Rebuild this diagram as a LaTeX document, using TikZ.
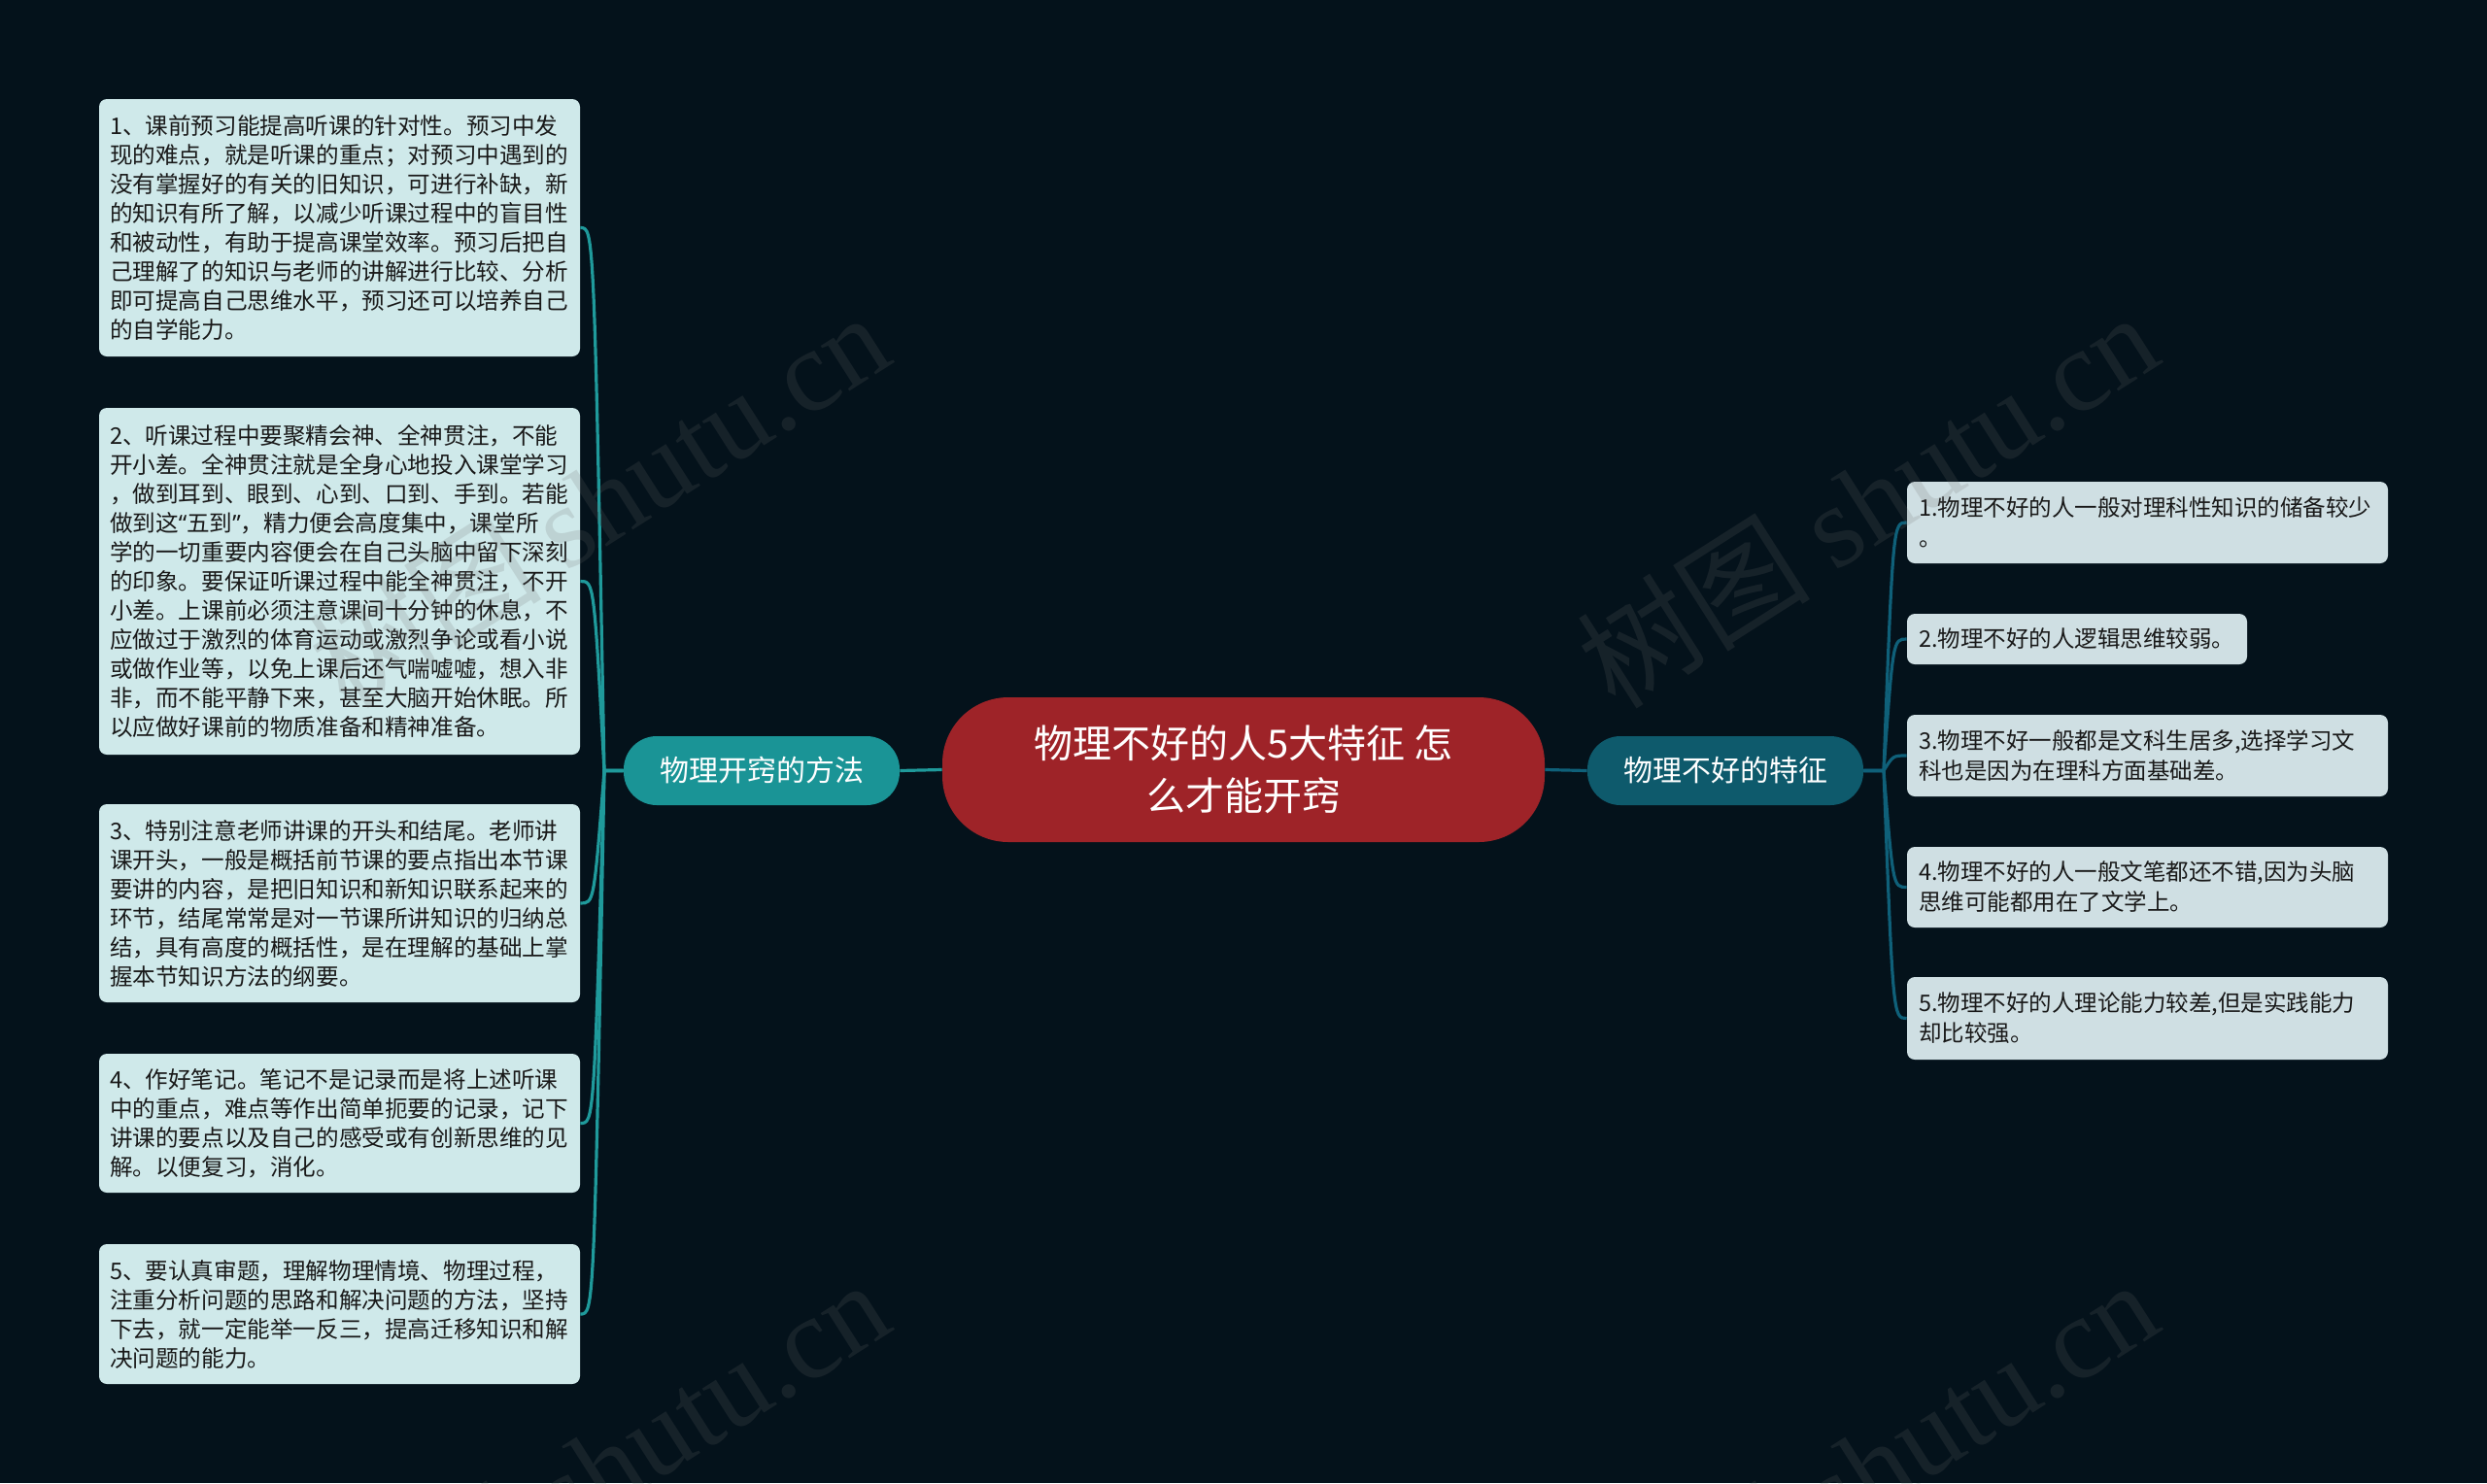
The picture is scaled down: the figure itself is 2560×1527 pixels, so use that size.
\documentclass[tikz,border=0pt]{standalone}
\usepackage{fontspec}
\setmainfont{Noto Sans CJK SC}
\newfontfamily\wmlatin{Liberation Serif}
\newfontfamily\qfont{Noto Sans}
\definecolor{bgc}{HTML}{04121B}
\definecolor{leafLc}{HTML}{CFE9EA}
\definecolor{leafRc}{HTML}{CFDFE3}
\definecolor{brLc}{HTML}{1A9496}
\definecolor{brRc}{HTML}{0E5A6C}
\definecolor{rootc}{HTML}{9E2328}
\definecolor{lnLc}{HTML}{1F9A9B}
\definecolor{lnRc}{HTML}{0F6079}
\definecolor{wmc}{HTML}{6D6D6D}
\begin{document}
\begin{tikzpicture}[x=0.5pt,y=-0.5pt,
  leafl/.style={fill=leafLc, rounded corners=4pt, inner xsep=5.5pt, inner ysep=0pt,
    align=left, text width=236.5pt, text=black!90,
    font=\fontsize{11.8pt}{15pt}\selectfont},
  leafr/.style={fill=leafRc, rounded corners=4pt, inner xsep=6pt, inner ysep=0pt,
    align=left, text=black!90,
    font=\fontsize{11.75pt}{15.5pt}\selectfont},
  branch/.style={minimum width=142pt, minimum height=35.5pt, rounded corners=17pt,
    text=white, font=\fontsize{15pt}{18pt}\selectfont, inner sep=0pt},
  rootbox/.style={fill=rootc, minimum width=310pt, minimum height=74.5pt,
    rounded corners=34pt, text=white, align=center, inner sep=0pt,
    font=\fontsize{20pt}{27pt}\selectfont},
  connL/.style={draw=lnLc, line width=1.6pt},
  connR/.style={draw=lnRc, line width=1.6pt},
  wm/.style={text=wmc, text opacity=0.18, font=\fontsize{60pt}{60pt}\selectfont, inner sep=0pt}
]
\path[use as bounding box] (0,0) rectangle (2560,1527);
\clip (0,0) rectangle (2560,1527);
\fill[bgc] (0,0) rectangle (2560,1527);

% root and branches
\node[rootbox] (root) at (1280,792.5) {物理不好的人5大特征 怎\\么才能开窍};
\node[branch, fill=brLc] (bl) at (784,793.5) {物理开窍的方法};
\node[branch, fill=brRc] (br) at (1776,793.5) {物理不好的特征};

% left leaves
\node[leafl, minimum height=132.5pt] (l1) at (349.5,234.5) {1、课前预习能提高听课的针对性。预习中发\\
现的难点，就是听课的重点；对预习中遇到的\\
没有掌握好的有关的旧知识，可进行补缺，新\\
的知识有所了解，以减少听课过程中的盲目性\\
和被动性，有助于提高课堂效率。预习后把自\\
己理解了的知识与老师的讲解进行比较、分析\\
即可提高自己思维水平，预习还可以培养自己\\
的自学能力。};
\node[leafl, minimum height=178.5pt] (l2) at (349.5,598.5) {2、听课过程中要聚精会神、全神贯注，不能\\
开小差。全神贯注就是全身心地投入课堂学习\\
，做到耳到、眼到、心到、口到、手到。若能\\
做到这{\qfont“}五到{\qfont”}，精力便会高度集中，课堂所\\
学的一切重要内容便会在自己头脑中留下深刻\\
的印象。要保证听课过程中能全神贯注，不开\\
小差。上课前必须注意课间十分钟的休息，不\\
应做过于激烈的体育运动或激烈争论或看小说\\
或做作业等，以免上课后还气喘嘘嘘，想入非\\
非，而不能平静下来，甚至大脑开始休眠。所\\
以应做好课前的物质准备和精神准备。};
\node[leafl, minimum height=102pt] (l3) at (349.5,930) {3、特别注意老师讲课的开头和结尾。老师讲\\
课开头，一般是概括前节课的要点指出本节课\\
要讲的内容，是把旧知识和新知识联系起来的\\
环节，结尾常常是对一节课所讲知识的归纳总\\
结，具有高度的概括性，是在理解的基础上掌\\
握本节知识方法的纲要。};
\node[leafl, minimum height=71.5pt] (l4) at (349.5,1156.5) {4、作好笔记。笔记不是记录而是将上述听课\\
中的重点，难点等作出简单扼要的记录，记下\\
讲课的要点以及自己的感受或有创新思维的见\\
解。以便复习，消化。};
\node[leafl, minimum height=72pt] (l5) at (349.5,1353) {5、要认真审题，理解物理情境、物理过程，\\
注重分析问题的思路和解决问题的方法，坚持\\
下去，就一定能举一反三，提高迁移知识和解\\
决问题的能力。};

% right leaves
\node[leafr, text width=235.5pt, minimum height=42pt] (r1) at (2210.5,538) {1.物理不好的人一般对理科性知识的储备较少\\。};
\node[leafr, text width=163pt, minimum height=26pt] (r2) at (2138,658) {2.物理不好的人逻辑思维较弱。};
\node[leafr, text width=235.5pt, minimum height=42pt] (r3) at (2210.5,778) {3.物理不好一般都是文科生居多,选择学习文\\科也是因为在理科方面基础差。};
\node[leafr, text width=235.5pt, minimum height=41.5pt] (r4) at (2210.5,913.5) {4.物理不好的人一般文笔都还不错,因为头脑\\思维可能都用在了文学上。};
\node[leafr, text width=235.5pt, minimum height=42.5pt] (r5) at (2210.5,1048.5) {5.物理不好的人理论能力较差,但是实践能力\\却比较强。};

% connectors
\draw[connL] (root.west) -- (bl.east);
\draw[connR] (root.east) -- (br.west);
\coordinate (sl) at (622,793.5);
\coordinate (sr) at (1939,793.5);
\foreach \n in {l1,l2,l3,l4,l5}{
  \draw[connL] (bl.west) -- (sl) .. controls ([xshift=7pt]\n.east) .. (\n.east);
}
\foreach \n in {r1,r2,r3,r4,r5}{
  \draw[connR] (br.east) -- (sr) .. controls ([xshift=-7pt]\n.west) .. (\n.west);
}

% watermarks
\node[wm, rotate=32.5] (wm1) at (1922,514) {树图 {\wmlatin shutu.cn}};
\node[wm, rotate=32.5] (wm2) at (616,514) {树图 {\wmlatin shutu.cn}};
\node[wm, rotate=32.5] (wm3) at (1922,1510) {树图 {\wmlatin shutu.cn}};
\node[wm, rotate=32.5] (wm4) at (616,1510) {树图 {\wmlatin shutu.cn}};
\end{tikzpicture}
\end{document}
